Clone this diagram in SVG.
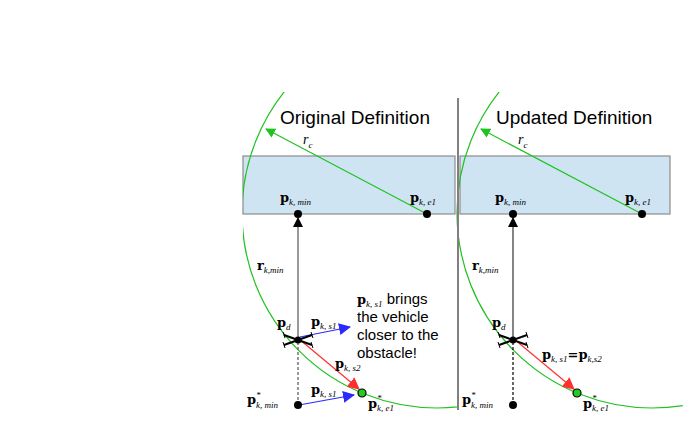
<svg xmlns="http://www.w3.org/2000/svg" width="683" height="430" viewBox="0 0 683 430">
<style>
.t{font-family:"Liberation Sans",Arial,sans-serif;font-size:19px;fill:#000}
.m{font-family:"DejaVu Serif","Liberation Serif",serif;font-size:13px;font-weight:bold}
.s{font-family:"Liberation Serif",serif;font-size:9px;font-style:italic;font-weight:normal}
.n{font-family:"Liberation Sans",Arial,sans-serif;font-size:15px}
.box{fill:#cfe4f3;stroke:#8c8c8c;stroke-width:1.2}
.circ{fill:none;stroke:#1fc21f;stroke-width:1.2}
</style>
<defs>
<clipPath id="cpl"><rect x="243" y="92" width="215" height="318"/></clipPath>
<clipPath id="cpr"><rect x="455" y="92" width="228" height="318"/></clipPath>
<marker id="ag" markerWidth="10" markerHeight="10" refX="9" refY="5" orient="auto" markerUnits="userSpaceOnUse"><path d="M0,0 L10,5 L0,10z" fill="#1fc21f"/></marker>
<marker id="ak" markerWidth="10" markerHeight="10" refX="9" refY="5" orient="auto" markerUnits="userSpaceOnUse"><path d="M0,0 L10,5 L0,10z" fill="#000"/></marker>
<marker id="ab" markerWidth="12" markerHeight="12" refX="11" refY="6" orient="auto" markerUnits="userSpaceOnUse"><path d="M0,0 L12,6 L0,12z" fill="#2a2aff"/></marker>
<marker id="ar" markerWidth="12" markerHeight="12" refX="11" refY="6" orient="auto" markerUnits="userSpaceOnUse"><path d="M0,0 L12,6 L0,12z" fill="#ff3030"/></marker>
<g id="drone"><line x1="-14" y1="-5" x2="14" y2="5" stroke="#000" stroke-width="2"/><line x1="-14" y1="5" x2="14" y2="-5" stroke="#000" stroke-width="2"/><circle r="3.5" fill="#000"/><line x1="-15" y1="-8" x2="-13" y2="-2" stroke="#000"/><line x1="13" y1="-8" x2="15" y2="-2" stroke="#000"/><line x1="-15" y1="2" x2="-13" y2="8" stroke="#000"/><line x1="13" y1="2" x2="15" y2="8" stroke="#000"/></g>
</defs>
<g id="boxes">
<rect class="box" x="243" y="156" width="212" height="58"/>
<rect class="box" x="460" y="156" width="210" height="58"/>
</g>
<g id="circles">
<circle class="circ" cx="437" cy="213" r="195" clip-path="url(#cpl)"/>
<circle class="circ" cx="652" cy="213" r="195" clip-path="url(#cpr)"/>
</g>
<line id="divider" x1="458" y1="98" x2="458" y2="410" stroke="#808080" stroke-width="2"/>
<g id="titles">
<text class="t" x="280" y="124">Original Definition</text>
<text class="t" x="496" y="124">Updated Definition</text>
</g>
<g id="connectors">
<line x1="427" y1="214" x2="266" y2="129" stroke="#1fc21f" stroke-width="1.2" marker-end="url(#ag)"/>
<line x1="642" y1="214" x2="481" y2="129" stroke="#1fc21f" stroke-width="1.2" marker-end="url(#ag)"/>
<line x1="298" y1="338" x2="298" y2="218" stroke="#555" stroke-width="1.2" marker-end="url(#ak)"/>
<line x1="513" y1="338" x2="513" y2="218" stroke="#333" stroke-width="1.2" marker-end="url(#ak)"/>
<line x1="298" y1="342" x2="298" y2="404" stroke="#555" stroke-width="1.2" stroke-dasharray="3,2"/>
<line x1="513" y1="342" x2="513" y2="404" stroke="#000" stroke-width="1.2" stroke-dasharray="3,2"/>
<line x1="300" y1="337" x2="350" y2="327" stroke="#2a2aff" stroke-width="1.2" marker-end="url(#ab)"/>
<line x1="299" y1="405" x2="354" y2="395" stroke="#2a2aff" stroke-width="1.2" marker-end="url(#ab)"/>
<line x1="299" y1="339" x2="359" y2="389" stroke="#ff3030" stroke-width="1.2" marker-end="url(#ar)"/>
<line x1="514" y1="339" x2="574" y2="389" stroke="#ff3030" stroke-width="1.2" marker-end="url(#ar)"/>
</g>
<g id="points">
<circle cx="298" cy="214" r="4" fill="#000"/>
<circle cx="427" cy="214" r="4" fill="#000"/>
<circle cx="513" cy="214" r="4" fill="#000"/>
<circle cx="642" cy="214" r="4" fill="#000"/>
<circle cx="298" cy="405" r="4" fill="#000"/>
<circle cx="513" cy="405" r="4" fill="#000"/>
<circle cx="362" cy="393" r="4" fill="#22cc22" stroke="#000" stroke-width="1.2"/>
<circle cx="577" cy="393" r="4" fill="#22cc22" stroke="#000" stroke-width="1.2"/>
</g>
<use id="drone1" href="#drone" x="298" y="340"/>
<use id="drone2" href="#drone" x="513" y="340"/>
<g id="labels">
<text x="303" y="144" font-family="Liberation Serif,serif" font-style="italic" font-size="14">r<tspan font-size="9" dy="4">c</tspan></text>
<text x="518" y="144" font-family="Liberation Serif,serif" font-style="italic" font-size="14">r<tspan font-size="9" dy="4">c</tspan></text>
<text class="m" x="280" y="202">p<tspan class="s" dy="3">k, min</tspan></text>
<text class="m" x="410" y="202">p<tspan class="s" dy="3">k, e1</tspan></text>
<text class="m" x="495" y="202">p<tspan class="s" dy="3">k, min</tspan></text>
<text class="m" x="625" y="202">p<tspan class="s" dy="3">k, e1</tspan></text>
<text class="m" x="257" y="270">r<tspan class="s" dy="3">k,min</tspan></text>
<text class="m" x="472" y="270">r<tspan class="s" dy="3">k,min</tspan></text>
<text class="m" x="277" y="327">p<tspan class="s" dy="3">d</tspan></text>
<text class="m" x="492" y="327">p<tspan class="s" dy="3">d</tspan></text>
<text class="m" x="311" y="326">p<tspan class="s" dy="3">k, s1</tspan></text>
<text class="m" x="335" y="368">p<tspan class="s" dy="3">k, s2</tspan></text>
<text class="m" x="311" y="394">p<tspan class="s" dy="3">k, s1</tspan></text>
<text class="m" x="247" y="404">p</text><text class="s" x="256" y="398">*</text><text class="s" x="256" y="408">k, min</text>
<text class="m" x="368" y="408">p</text><text class="s" x="377" y="401">*</text><text class="s" x="377" y="411">k, e1</text>
<text class="m" x="462" y="404">p</text><text class="s" x="471" y="398">*</text><text class="s" x="471" y="408">k, min</text>
<text class="m" x="583" y="408">p</text><text class="s" x="592" y="401">*</text><text class="s" x="592" y="411">k, e1</text>
<text class="m" x="542" y="359">p<tspan class="s" dy="3">k, s1</tspan><tspan dy="-3">=p</tspan><tspan class="s" dy="3">k,s2</tspan></text>
<text class="n" x="357" y="304"><tspan class="m">p</tspan><tspan class="s" dy="3">k, s1</tspan><tspan dy="-3"> brings</tspan></text>
<text class="n" x="357" y="322">the vehicle</text>
<text class="n" x="357" y="340">closer to the</text>
<text class="n" x="357" y="358">obstacle!</text>
</g>
</svg>
